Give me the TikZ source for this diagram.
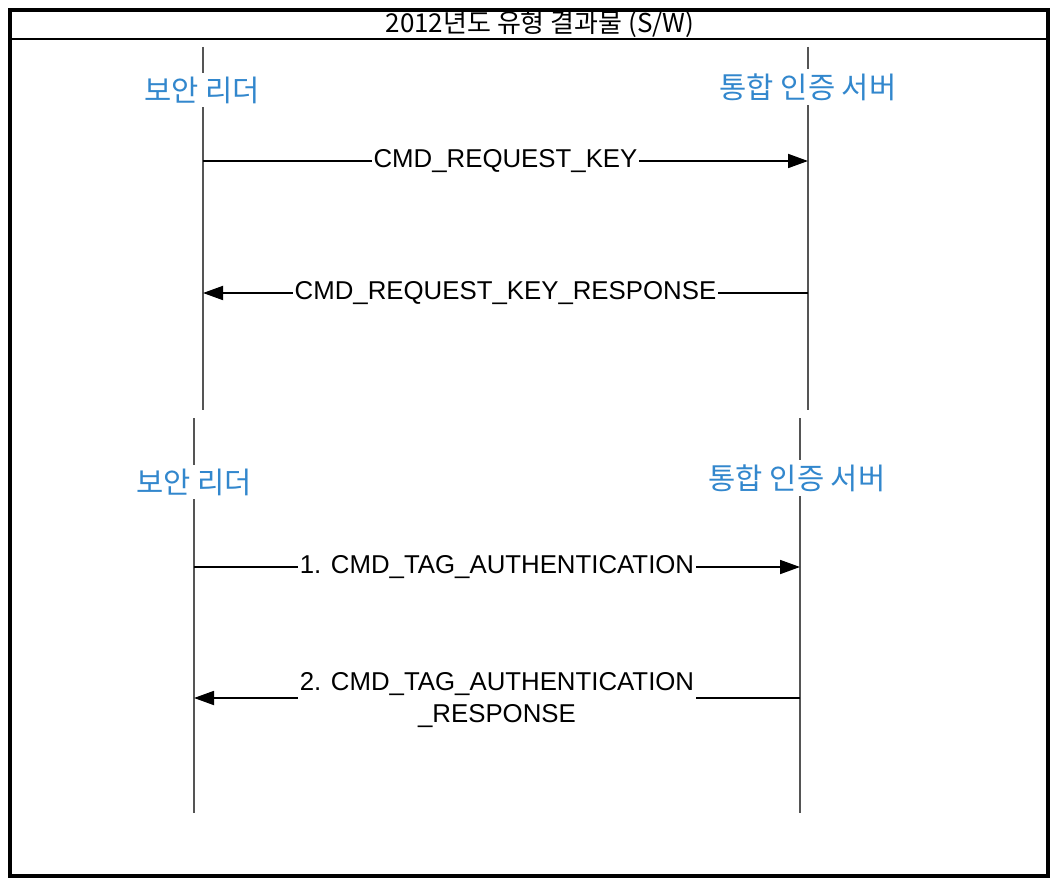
\documentclass[tikz,border=0pt]{standalone}
\usepackage{fontspec}
\setmainfont{Liberation Sans}
\newfontfamily\cjk{Noto Sans CJK KR}
\usetikzlibrary{arrows.meta}
\definecolor{actorblue}{RGB}{50,135,205}
\definecolor{lifegray}{RGB}{85,85,85}

\begin{document}
\begin{tikzpicture}[x=0.5pt,y=-0.5pt,
    life/.style={draw=lifegray,line width=1pt},
    actor/.style={fill=white,text=actorblue,inner sep=2pt,
        font=\cjk\fontsize{14.8}{17}\selectfont},
    msg/.style={line width=0.9pt,-{Triangle[length=10pt,width=7pt]}},
    msglabel/.style={fill=white,inner sep=1pt,align=center,
        font=\fontsize{12.9}{16}\selectfont}]
  \useasboundingbox (0,0) rectangle (1060,882);
  \draw[line width=2pt] (10,10) rectangle (1048,876);
  \draw[line width=1pt] (10,39) -- (1048,39);
  \node[font=\cjk\fontsize{13}{15}\selectfont] (title) at (540,24) {2012년도 유형 결과물 (S/W)};

  \coordinate (readerTop) at (203,47);
  \coordinate (readerBot) at (203,410);
  \coordinate (serverTop) at (808,47);
  \coordinate (serverBot) at (808,410);
  \draw[life] (readerTop) -- (readerBot);
  \draw[life] (serverTop) -- (serverBot);
  \node[actor] (reader) at (202,90) {보안 리더};
  \node[actor] (server) at (808,87) {통합 인증 서버};

  \coordinate (keyL) at (203,161);
  \coordinate (keyR) at (808,161);
  \coordinate (keyrespL) at (203,293);
  \coordinate (keyrespR) at (808,293);
  \draw[msg] (keyL) -- (keyR)
    node[msglabel,pos=0.5] (reqkey) {CMD\_REQUEST\_KEY};
  \draw[msg] (keyrespR) -- (keyrespL)
    node[msglabel,pos=0.5] (reqkeyresp) {CMD\_REQUEST\_KEY\_RESPONSE};

  \coordinate (reader2Top) at (194,418);
  \coordinate (reader2Bot) at (194,813);
  \coordinate (server2Top) at (800,418);
  \coordinate (server2Bot) at (800,813);
  \draw[life] (reader2Top) -- (reader2Bot);
  \draw[life] (server2Top) -- (server2Bot);
  \node[actor] (reader2) at (194,482) {보안 리더};
  \node[actor] (server2) at (797,478) {통합 인증 서버};

  \coordinate (authL) at (194,567);
  \coordinate (authR) at (800,567);
  \coordinate (authrespL) at (194,698);
  \coordinate (authrespR) at (800,698);
  \draw[msg] (authL) -- (authR)
    node[msglabel,pos=0.5] (tagauth) {1. CMD\_TAG\_AUTHENTICATION};
  \draw[msg] (authrespR) -- (authrespL)
    node[msglabel,pos=0.5,yshift=-1pt] (tagauthresp) {2. CMD\_TAG\_AUTHENTICATION\\\_RESPONSE};
\end{tikzpicture}
\end{document}
